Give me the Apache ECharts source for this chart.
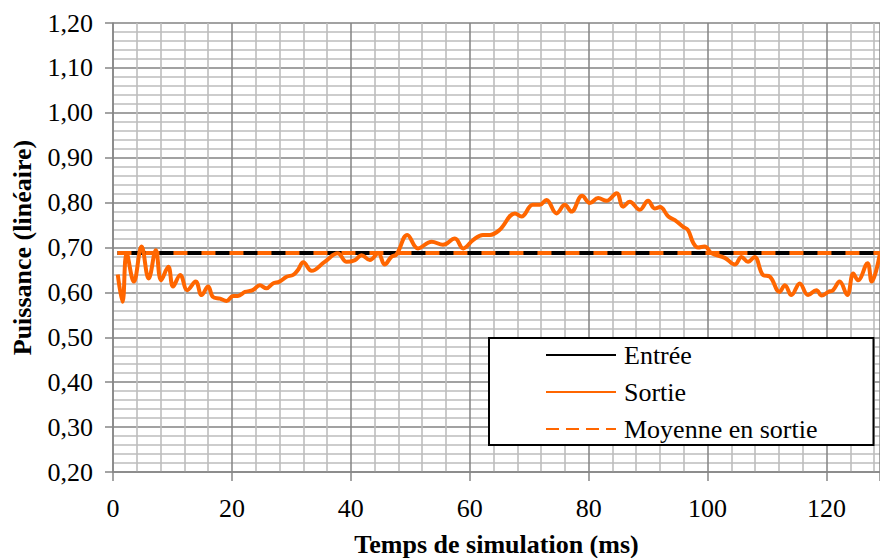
<!DOCTYPE html>
<html><head><meta charset="utf-8">
<script src="https://cdn.jsdelivr.net/npm/echarts@6/dist/echarts.min.js"></script>
<style>html,body{margin:0;padding:0;background:#fff}#c{width:880px;height:558px}</style>
</head><body><div id="c"></div>
<script>
// X axis (ms) and Y axis (linear power) tick settings
const xTicks = [0, 20, 40, 60, 80, 100, 120];
const yTicks = [0.20, 0.30, 0.40, 0.50, 0.60, 0.70, 0.80, 0.90, 1.00, 1.10, 1.20];

// Series names
const seriesNames = ['Entrée', 'Sortie', 'Moyenne en sortie'];

// Entrée (input), constant
const entreeT = [0.75, 129];
const entreeV = [0.688, 0.688];

// Moyenne en sortie (output mean), constant
const moyenneT = [0.75, 129];
const moyenneV = [0.688, 0.688];

// Sortie (output)
const sortieT = [0.8,1.6,2.3,3.5,4.8,6.0,7.2,8.1,9.3,10.1,
  11.3,12.5,13.9,14.9,16.0,16.8,18.0,19.1,20.2,21.0,
  22.2,23.5,24.7,25.8,26.9,28.0,29.2,30.3,31.1,32.0,
  33.4,35.6,37.8,39.3,40.7,41.8,43.2,44.6,45.7,46.8,
  47.7,49.5,51.3,53.6,55.5,57.5,58.9,60.6,62.2,63.4,
  65.0,67.6,68.7,70.6,71.8,72.9,74.6,76.0,77.1,78.9,
  80.2,81.6,83.0,84.7,85.8,86.9,88.6,90.0,91.1,92.0,
  93.4,94.5,95.9,96.7,97.6,98.4,99.5,100.7,102.9,104.6,
  105.7,106.8,107.9,109.3,110.5,112.1,113.0,114.1,115.5,116.9,
  118.3,119.2,120.3,121.1,122.2,123.5,124.5,125.3,126.9,127.6,
  129.0];
const sortieV = [0.640,0.579,0.687,0.624,0.702,0.631,0.694,0.627,0.657,0.613,
  0.639,0.605,0.624,0.594,0.613,0.590,0.586,0.581,0.592,0.592,
  0.601,0.605,0.616,0.609,0.620,0.624,0.635,0.639,0.650,0.667,
  0.648,0.668,0.687,0.668,0.672,0.683,0.672,0.687,0.662,0.679,
  0.685,0.728,0.698,0.713,0.706,0.720,0.698,0.717,0.728,0.728,
  0.739,0.776,0.769,0.795,0.795,0.806,0.776,0.795,0.780,0.815,
  0.799,0.810,0.804,0.821,0.791,0.802,0.784,0.804,0.787,0.790,
  0.769,0.761,0.746,0.739,0.710,0.700,0.702,0.687,0.677,0.662,
  0.679,0.668,0.679,0.639,0.635,0.601,0.616,0.594,0.620,0.594,
  0.605,0.593,0.601,0.605,0.624,0.594,0.642,0.627,0.665,0.624,
  0.687];

const xMax = 129;
const zip = (a, b) => a.map((t, i) => [t, b[i]]);

const FONT = 'Liberation Serif';
const chart = echarts.init(document.getElementById('c'), null, {renderer: 'svg'});
chart.setOption({
  animation: false,
  backgroundColor: '#fff',
  textStyle: {fontFamily: FONT, color: '#000'},
  grid: {left: 113, top: 23, right: 0, bottom: 86, containLabel: false, outerBoundsMode: 'none'},
  xAxis: {
    type: 'value', min: xTicks[0], max: xMax, interval: xTicks[1] - xTicks[0],
    name: 'Temps de simulation (ms)', nameLocation: 'middle', nameGap: 59,
    nameTextStyle: {fontFamily: FONT, fontWeight: 'bold', fontSize: 26, color: '#000'},
    axisLine: {show: true, onZero: false, lineStyle: {color: '#868686', width: 1.5}},
    axisTick: {show: true, inside: false, length: 9, lineStyle: {color: '#868686', width: 1.5}},
    minorTick: {show: false, splitNumber: 5},
    axisLabel: {margin: 23, fontFamily: FONT, fontSize: 26, color: '#000',
      formatter: v => (xTicks.indexOf(v) >= 0 ? String(v) : '')},
    splitLine: {show: true, lineStyle: {color: '#838383', width: 1.5}},
    minorSplitLine: {show: true, lineStyle: {color: '#bdbdbd', width: 1.6}}
  },
  yAxis: {
    type: 'value', min: yTicks[0], max: yTicks[yTicks.length - 1], interval: 0.1,
    name: 'Puissance (linéaire)', nameLocation: 'middle', nameGap: 78,
    nameTextStyle: {fontFamily: FONT, fontWeight: 'bold', fontSize: 26, color: '#000'},
    axisLine: {show: true, onZero: false, lineStyle: {color: '#868686', width: 1.5}},
    axisTick: {show: true, inside: false, length: 8, lineStyle: {color: '#868686', width: 1.5}},
    minorTick: {show: false, splitNumber: 5},
    axisLabel: {margin: 20, fontFamily: FONT, fontSize: 26, color: '#000',
      formatter: v => v.toFixed(2).replace('.', ',')},
    splitLine: {show: true, lineStyle: {color: '#838383', width: 1.5}},
    minorSplitLine: {show: true, lineStyle: {color: '#bdbdbd', width: 1.6}}
  },
  legend: {
    orient: 'vertical', left: 489, top: 338,
    backgroundColor: '#fff', borderColor: '#000', borderWidth: 2,
    padding: [2, 56, 1, 56],
    itemWidth: 70, itemHeight: 20, itemGap: 7,
    itemStyle: {opacity: 0},
    textStyle: {fontFamily: FONT, fontSize: 26, color: '#000', lineHeight: 30, padding: [0, 0, 0, 3]},
    data: [
      {name: seriesNames[0]},
      {name: seriesNames[1]},
      {name: seriesNames[2], lineStyle: {type: [13, 7]}}
    ]
  },
  series: [
    {name: seriesNames[0], type: 'line', data: zip(entreeT, entreeV), symbol: 'none',
      lineStyle: {color: '#000', width: 4}, itemStyle: {color: '#000'}, z: 2},
    {name: seriesNames[1], type: 'line', data: zip(sortieT, sortieV), symbol: 'none', smooth: 0.4,
      lineStyle: {color: '#ff6600', width: 4}, itemStyle: {color: '#ff6600'}, z: 3},
    {name: seriesNames[2], type: 'line', data: zip(moyenneT, moyenneV), symbol: 'none',
      lineStyle: {color: '#ff6600', width: 4, type: [14, 14]}, itemStyle: {color: '#ff6600'}, z: 4}
  ]
});
</script></body></html>
